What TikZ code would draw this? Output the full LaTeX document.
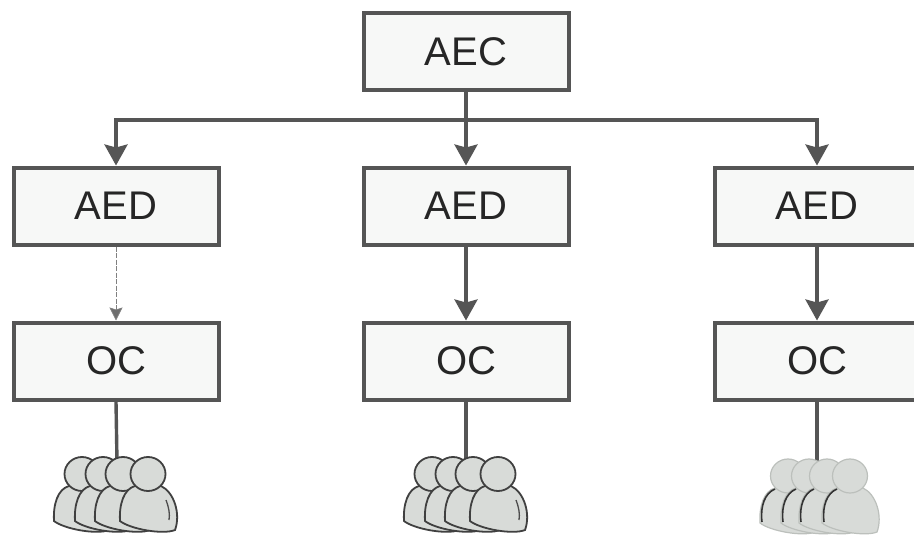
\documentclass[tikz,border=0pt]{standalone}
\usepackage{fontspec}
\setmainfont{Liberation Sans}
\usetikzlibrary{arrows.meta}
\definecolor{linegrey}{HTML}{555555}
\definecolor{boxfill}{HTML}{F7F8F7}
\definecolor{bodyfill}{HTML}{D8DBD8}
\definecolor{softedge}{HTML}{BCC0BC}
\tikzset{
  x=1pt,y=-1pt,
  orgbox/.style={draw=linegrey,line width=4pt,fill=boxfill,minimum width=205pt,minimum height=77pt,inner sep=0pt,text=black!85,font=\fontsize{40}{40}\selectfont},
  link/.style={draw=linegrey,line width=3.4pt},
  arrowlink/.style={link,-{Stealth[length=21pt,width=23pt,inset=3pt]}},
  thinlink/.style={draw=linegrey!75,line width=0.7pt,dash pattern=on 5pt off 1.5pt,-{Stealth[length=13pt,width=13pt,inset=2pt,fill=linegrey!85]}},
  person/.pic={
    \path[pic actions,fill=bodyfill]
      (-13,12) .. controls (-24,15) and (-29,30) .. (-28,47)
      .. controls (-18,55) and (15,61) .. (27,56)
      .. controls (33,40) and (26,18) .. (13,12) -- cycle;
    \path[pic actions,fill=bodyfill] (0,0) ellipse (17.5 and 17);
  },
  darkperson/.style={draw=black!75,line width=1.8pt},
  softperson/.style={draw=softedge,line width=1.2pt},
  innerarc/.style={draw=black!70,line width=1.3pt}
}
\begin{document}
\begin{tikzpicture}
\useasboundingbox (0,0) rectangle (914,535);
\fill[white] (0,0) rectangle (914,535);
\node[orgbox] (aec) at (466,52) {AEC};
\node[orgbox] (aedl) at (116,206) {AED};
\node[orgbox] (aedm) at (466,206) {AED};
\node[orgbox] (aedr) at (817,206) {AED};
\node[orgbox] (ocl) at (116,361) {OC};
\node[orgbox] (ocm) at (466,361) {OC};
\node[orgbox] (ocr) at (817,361) {OC};
\coordinate (bus) at (466,120);
\coordinate (pl) at (117,462);
\coordinate (pm) at (466,462);
\coordinate (pr) at (817,462);
\draw[link] (aec.south) -- (bus);
\draw[arrowlink] (bus) -| (aedl.north);
\draw[arrowlink] (bus) -- (aedm.north);
\draw[arrowlink] (bus) -| (aedr.north);
\draw[thinlink] (aedl.south) -- (ocl.north);
\draw[arrowlink] (aedm.south) -- (ocm.north);
\draw[arrowlink] (aedr.south) -- (ocr.north);
\draw[link] (ocl.south) -- (pl);
\draw[link] (ocm.south) -- (pm);
\draw[link] (ocr.south) -- (pr);
\foreach \dx in {82,103,123,148} \pic[darkperson] at (\dx,474) {person};
\draw[innerarc] (166,500) .. controls (169,508) and (170,514) .. (169,520);
\foreach \dx in {432,453,473,498} \pic[darkperson] at (\dx,474) {person};
\draw[innerarc] (516,500) .. controls (519,508) and (520,514) .. (519,520);
\foreach \dx in {788,809,827,850} \pic[softperson] at (\dx,476) {person};
\foreach \dx in {788,809,827,850}
  \draw[black!80,line width=1.6pt] (\dx-13,489) .. controls (\dx-23,493) and (\dx-28,506) .. (\dx-26,522);
\end{tikzpicture}
\end{document}
